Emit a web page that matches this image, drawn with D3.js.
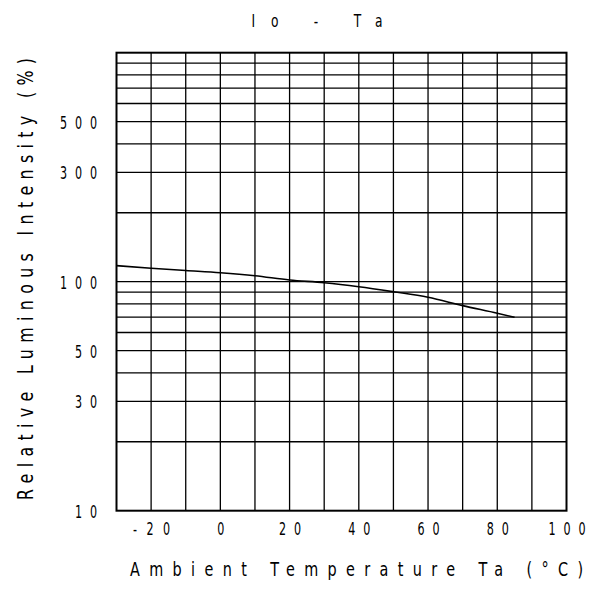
<!DOCTYPE html>
<html><head><meta charset="utf-8">
<script src="https://cdn.jsdelivr.net/npm/d3@7"></script>
<style>
html,body{margin:0;padding:0;background:#fff;}
text{font-family:"DejaVu Sans","Liberation Sans",sans-serif;fill:#000;}
</style></head>
<body>
<svg id="chart" width="595" height="603"></svg>
<script>
const temps = [-30, -20, -10, 0, 10, 20, 30, 40, 50, 60, 70, 80, 85];
const intensity = [117.5, 114.4, 111.9, 109.5, 106.2, 101.7, 99.0, 95.1, 90.4, 85.5, 78.6, 72.8, 69.9];
const xTickValues = [-20, 0, 20, 40, 60, 80, 100];
const xGridValues = [-20, -10, 0, 10, 20, 30, 40, 50, 60, 70, 80, 90];
const yTickValues = [10, 30, 50, 100, 300, 500];
const yGridValues = [20, 30, 40, 50, 60, 70, 80, 90, 100, 200, 300, 400, 500, 600, 700, 800, 900];
const titleText = "Io - Ta";
const xTitle = "Ambient Temperature Ta (°C)";
const yTitle = "Relative Luminous Intensity (%)";

const svg = d3.select("#chart");
const L = 116.5, R = 566.5, T = 52.7, B = 510.7;
const x = d3.scaleLinear().domain([-30, 100]).range([L, R]);
const y = d3.scaleLog().domain([10, 1000]).range([B, T]);

// grid
const g = svg.append("g");
g.selectAll("line.v").data(xGridValues).enter().append("line")
  .attr("x1", d => x(d)).attr("x2", d => x(d)).attr("y1", T).attr("y2", B)
  .attr("stroke", "#000").attr("stroke-width", 1.3);
g.selectAll("line.h").data(yGridValues).enter().append("line")
  .attr("y1", d => y(d)).attr("y2", d => y(d)).attr("x1", L).attr("x2", R)
  .attr("stroke", "#000").attr("stroke-width", 1.3);

// border
svg.append("rect").attr("x", L).attr("y", T).attr("width", R - L).attr("height", B - T)
  .attr("fill", "none").attr("stroke", "#000").attr("stroke-width", 2);

// axes (labels only)
const sx = 0.62, fs = 18;
const labelWidth = s => (15 * s.length - 8) / sx;
const xAxis = d3.axisBottom(x).tickValues(xTickValues).tickSize(0).tickPadding(0)
  .tickFormat(d => d < 0 ? "-" + Math.abs(d) : String(d));
const xa = svg.append("g").attr("transform", `translate(0,${B})`).call(xAxis);
xa.select(".domain").remove();
xa.selectAll("text").attr("font-size", fs)
  .attr("dy", null).attr("y", 24.5).attr("x", 0)
  .attr("textLength", function() { return labelWidth(this.textContent); })
  .attr("lengthAdjust", "spacing")
  .attr("transform", `scale(${sx},1)`)
  .style("font-family", '"DejaVu Sans",sans-serif');

const yAxis = d3.axisLeft(y).tickValues(yTickValues).tickSize(0).tickPadding(0)
  .tickFormat(d3.format("d"));
const ya = svg.append("g").attr("transform", `translate(${L - 19.5},0)`).call(yAxis);
ya.select(".domain").remove();
ya.selectAll("text").attr("font-size", fs)
  .attr("x", 0).attr("dy", "0.36em")
  .attr("textLength", function() { return labelWidth(this.textContent); })
  .attr("lengthAdjust", "spacing")
  .attr("transform", `scale(${sx},1)`)
  .style("font-family", '"DejaVu Sans",sans-serif');

// curve
const pts = temps.map((t, i) => [t, intensity[i]]);
svg.append("path").datum(pts)
  .attr("d", d3.line().x(d => x(d[0])).y(d => y(d[1])).curve(d3.curveMonotoneX))
  .attr("fill", "none").attr("stroke", "#000").attr("stroke-width", 1.6);

// titles
const tsx = 0.72;
svg.append("text").attr("transform", `translate(251.5,27) scale(${tsx},1)`).attr("font-size", 17)
  .attr("textLength", 131 / tsx).attr("lengthAdjust", "spacing").text(titleText);
svg.append("text").attr("transform", `translate(130,576) scale(${tsx},1)`).attr("font-size", 20)
  .attr("textLength", 453 / tsx).attr("lengthAdjust", "spacing").text(xTitle);
svg.append("text").attr("transform", `translate(33,500) rotate(-90) scale(${tsx},1)`).attr("font-size", 22)
  .attr("textLength", 442 / tsx).attr("lengthAdjust", "spacing").text(yTitle);
</script>
</body></html>
